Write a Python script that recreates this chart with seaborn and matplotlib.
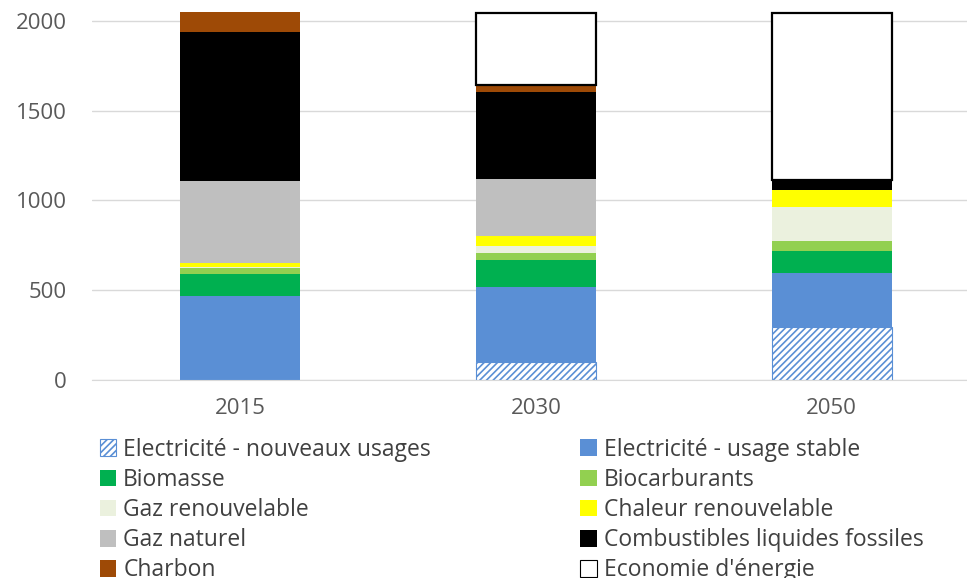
import numpy as np
import matplotlib
matplotlib.use("Agg")
import matplotlib.pyplot as plt
import seaborn as sns
from matplotlib.patches import Patch

# Données (TWh)
annees = ["2015", "2030", "2050"]
elec_nouveaux = [0, 102, 293]
elec_stable = [468, 414, 305]
biomasse = [121, 152, 122]
biocarburants = [33, 37, 56]
gaz_renouv = [8, 41, 189]
chaleur_renouv = [20, 56, 93]
gaz_naturel = [458, 316, 0]
fossiles = [829, 488, 56]
charbon = [113, 37, 0]
economie = [0, 400, 933]

noms = ["Electricité - nouveaux usages", "Electricité - usage stable", "Biomasse",
        "Biocarburants", "Gaz renouvelable", "Chaleur renouvelable", "Gaz naturel",
        "Combustibles liquides fossiles", "Charbon", "Economie d'énergie"]
series = [elec_nouveaux, elec_stable, biomasse, biocarburants, gaz_renouv,
          chaleur_renouv, gaz_naturel, fossiles, charbon, economie]

BLEU = "#5A8FD5"
styles = [
    dict(color="white", edgecolor=BLEU, hatch="/////", linewidth=0.8),
    dict(color=BLEU, linewidth=0),
    dict(color="#00B050", linewidth=0),
    dict(color="#92D050", linewidth=0),
    dict(color="#EBF1DE", linewidth=0),
    dict(color="#FFFF00", linewidth=0),
    dict(color="#BFBFBF", linewidth=0),
    dict(color="#000000", linewidth=0),
    dict(color="#9E4A06", linewidth=0),
    dict(color="white", edgecolor="#000000", linewidth=1.6),
]

sns.set_style("white")
plt.rcParams["font.family"] = ["Open Sans", "DejaVu Sans"]
plt.rcParams["hatch.linewidth"] = 1.2

fig = plt.figure(figsize=(9.67, 5.78), dpi=100)
ax = fig.add_axes([0.0951, 0.3426, 0.918, 0.6574])

base = np.zeros(len(annees))
for vals, st in zip(series, styles):
    n_avant = len(ax.patches)
    sns.barplot(x=annees, y=vals, bottom=base, width=0.405, saturation=1,
                errorbar=None, ax=ax, **st)
    # on masque les segments vides
    for p in ax.patches[n_avant:]:
        if p.get_height() == 0:
            p.set_visible(False)
    base = base + np.array(vals)

ax.set_xlim(-0.5, 2.5)
ax.set_ylim(0, 2117)
ax.set_yticks([0, 500, 1000, 1500, 2000])
ax.yaxis.grid(True, color="#D9D9D9", linewidth=1)
ax.set_axisbelow(True)
for s in ["top", "right", "left"]:
    ax.spines[s].set_visible(False)
ax.spines["bottom"].set_color("#D9D9D9")
ax.tick_params(axis="both", length=0, labelsize=16, labelcolor="#595959")
ax.tick_params(axis="y", pad=18)
ax.tick_params(axis="x", pad=13)
ax.set_xlabel("")
ax.set_ylabel("")

# Légende sur deux colonnes, remplie ligne par ligne
handles = []
for nom, st in zip(noms, styles):
    handles.append(Patch(facecolor=st["color"], edgecolor=st.get("edgecolor", st["color"]),
                         hatch=st.get("hatch"), linewidth=0.8 if "edgecolor" in st else 0,
                         label=nom))
ordre = [0, 2, 4, 6, 8, 1, 3, 5, 7, 9]
fig.legend([handles[i] for i in ordre], [noms[i] for i in ordre], ncol=2,
           loc="upper left", bbox_to_anchor=(0.103, 0.2427), frameon=False,
           fontsize=16.5, handlelength=0.73, handleheight=0.73, handletextpad=0.3,
           labelspacing=0.27, columnspacing=6.5, labelcolor="#404040",
           borderaxespad=0, borderpad=0)

fig.savefig("out.png", dpi=100)
